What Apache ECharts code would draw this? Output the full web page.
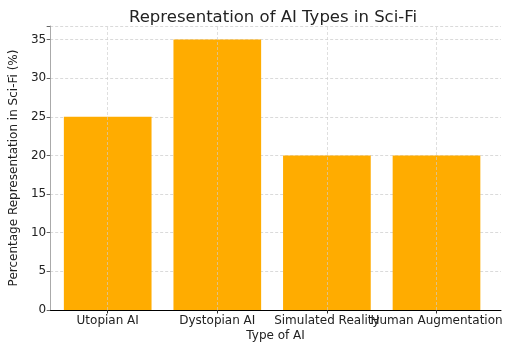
<!DOCTYPE html>
<html><head><meta charset="utf-8">
<script src="https://cdn.jsdelivr.net/npm/echarts@6/dist/echarts.min.js"></script>
<style>html,body{margin:0;padding:0;background:#fff}#c{width:512px;height:350px}</style>
</head><body><div id="c"></div>
<script>
const categories = ['Utopian AI', 'Dystopian AI', 'Simulated Reality', 'Human Augmentation'];
const values = [25, 35, 20, 20];
const yTicks = [0, 5, 10, 15, 20, 25, 30, 35];
const yMax = 36.75;

const font = 'DejaVu Sans';
const chart = echarts.init(document.getElementById('c'), null, {renderer: 'canvas'});
chart.setOption({
  animation: false,
  title: {text: 'Representation of AI Types in Sci-Fi', left: 124, top: 4,
    textStyle: {fontFamily: font, fontSize: 16.5, fontWeight: 'normal', color: '#222'}},
  grid: [
    {left: 43, right: 11, top: 26, bottom: 40},
    {left: 52.9, right: 20.7, top: 26, bottom: 40}
  ],
  xAxis: [
    {type: 'value', gridIndex: 0, min: 0, max: 1, axisLine: {show: true, lineStyle: {color: '#000', width: 1}},
      axisTick: {show: false}, axisLabel: {show: false}, splitLine: {show: false},
      name: 'Type of AI', nameLocation: 'middle', nameGap: 20,
      nameTextStyle: {fontFamily: font, fontSize: 12, color: '#222'}},
    {type: 'category', gridIndex: 1, data: categories, axisLine: {show: false},
      axisTick: {show: true, alignWithLabel: true, length: 3.5, lineStyle: {color: '#333'}},
      axisLabel: {interval: 0, hideOverlap: false, fontFamily: font, fontSize: 12, color: '#222', margin: 5},
      splitLine: {show: false}}
  ],
  yAxis: [
    {type: 'value', gridIndex: 0, min: 0, max: yMax, interval: 5,
      axisLine: {show: true, lineStyle: {color: '#aaa', width: 1}},
      axisTick: {show: true, length: 3.5, lineStyle: {color: '#666'}},
      axisLabel: {fontFamily: font, fontSize: 12, color: '#222', margin: 4,
        formatter: v => yTicks.includes(v) ? String(v) : ''},
      splitLine: {show: true, lineStyle: {color: '#d0d0d0', type: [3, 2], width: 0.8}},
      name: 'Percentage Representation in Sci-Fi (%)', nameLocation: 'middle', nameGap: 24,
      nameTextStyle: {fontFamily: font, fontSize: 12, color: '#222'}},
    {type: 'value', gridIndex: 1, min: 0, max: yMax, show: false, splitLine: {show: false}}
  ],
  series: [{
    type: 'bar', xAxisIndex: 1, yAxisIndex: 1, data: values, barWidth: '80%',
    itemStyle: {color: '#FFAC00'},
    markLine: {silent: true, symbol: 'none', label: {show: false},
      lineStyle: {color: '#cccccc', type: [3, 2], width: 0.8, opacity: 0.8},
      data: categories.map(c => ({xAxis: c}))}
  }]
});
</script></body></html>
